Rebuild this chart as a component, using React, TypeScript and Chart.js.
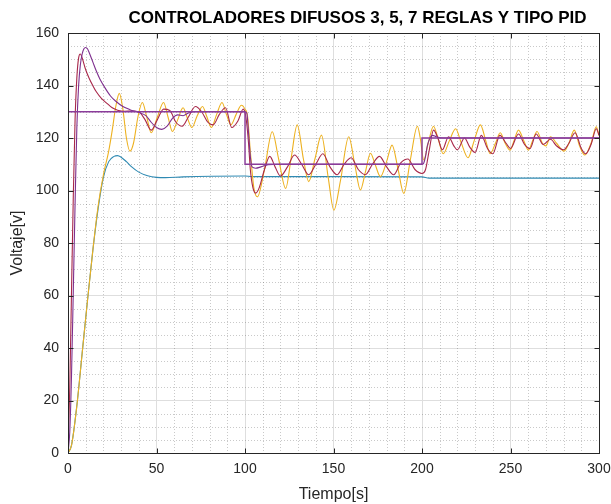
import React, { useEffect, useRef } from 'react';
import { Chart, registerables } from 'chart.js';

Chart.register(...registerables);

const TITLE = 'CONTROLADORES DIFUSOS 3, 5, 7 REGLAS Y TIPO PID';
const X_LABEL = 'Tiempo[s]';
const Y_LABEL = 'Voltaje[v]';
const X_TICKS = [0, 50, 100, 150, 200, 250, 300];
const Y_TICKS = [0, 20, 40, 60, 80, 100, 120, 140, 160];
const X_MINOR_STEP = 10;
const Y_MINOR_STEP = 5;

// Setpoint (reference)
const refT = [0, 100, 100, 200, 200, 300];
const refV = [130, 130, 110, 110, 120, 120];

// Fuzzy controller (purple)
const purT = [0, 1, 2, 3, 4, 5, 6, 7, 8, 9, 10, 11, 12, 14, 16, 18, 21, 24, 27, 31, 35, 40, 44, 47, 50, 53, 56, 59, 62, 65, 68, 72, 100, 101, 102, 103, 104, 106, 109, 113, 120, 200, 201, 202, 203, 204.5, 206, 208, 212, 300];
const purV = [0, 8, 30, 62, 95, 124, 140, 148, 152, 154, 154.5, 154, 152.5, 149, 145.5, 142.5, 139, 136, 134, 132, 130.8, 129.7, 128.5, 126, 124, 123.3, 124.5, 127.5, 128.8, 128.5, 129.5, 130, 130, 129.5, 122, 113, 109, 108.5, 109, 109.8, 110, 110, 110.5, 113, 117, 120, 121, 120.5, 120, 120];

// Fuzzy controller (red)
const redT = [0, 1, 2, 3, 4, 5, 6, 7, 8, 10, 12, 14, 16, 19, 22, 25, 28, 32, 36, 40, 43.5, 47, 50.5, 54, 57.5, 61, 64.5, 68, 72, 75.5, 79, 82, 85.5, 89, 92.5, 96, 99, 100.5, 102, 103, 104.5, 106, 108, 111, 114, 117, 120, 124, 128, 132, 136, 140, 144, 148, 152, 156, 160, 164, 168, 172, 176, 180, 184, 188, 192, 196, 200, 202, 204, 206.5, 209, 211.5, 215, 218, 220, 224, 227, 230, 233.5, 237, 240, 244, 247.5, 250, 254.5, 258, 261, 264.5, 268.5, 272.6, 276, 280, 283, 286.5, 290, 292.5, 295.5, 298.5, 300];
const redV = [0, 25, 62, 98, 127, 143, 150.5, 152, 150.5, 146, 142.7, 140, 137.6, 135, 133.2, 131.5, 130.6, 130.2, 130.3, 130, 127, 123, 127, 131, 130.5, 126, 124.5, 128, 132, 130, 126, 125, 129, 131.5, 124, 126.5, 131, 128, 118, 108, 101, 99, 101, 108, 113, 109, 105.5, 109, 113.5, 110, 106, 110, 114, 109, 106, 110, 112.5, 108, 106, 110, 113, 109, 106, 110.5, 112, 108, 106.5, 108, 115, 123, 120, 115.5, 120.5, 117, 115.5, 120, 116.5, 114.5, 121, 116, 114, 121, 118, 116, 121.5, 117.5, 116, 121.5, 117.5, 119.5, 117, 115.5, 118, 122, 116, 114, 117.5, 123.5, 121];

// Fuzzy controller (yellow)
const yelT = [0, 2, 5, 8, 11, 14, 17, 20, 23, 25, 27, 29, 31, 33, 35, 37, 39.5, 42, 44.5, 47, 50.5, 54, 56.5, 59, 62, 65, 67.5, 70, 73, 76, 78.5, 81, 84, 87, 89.5, 92, 95, 98, 100, 101.5, 103, 105, 107, 111, 115.4, 119, 123, 126, 129.5, 133, 136, 139.5, 143.2, 147, 150.2, 154, 158.6, 162, 165.2, 168, 170.9, 173.5, 176.5, 180, 183.1, 186.5, 189.7, 193.5, 197.4, 199, 201, 203.5, 206.5, 209, 212, 215.5, 219, 222, 226, 229.5, 233, 236, 238.5, 241.5, 244.2, 247, 249.8, 252, 254.5, 257.5, 260.1, 262.5, 265, 268, 270, 272.6, 276, 280.3, 283, 286, 289, 292, 295.5, 298.5, 300];
const yelV = [0, 3, 18, 38, 58, 77, 94, 106, 115, 123, 132, 137, 131, 120, 115, 118, 128, 133.5, 128, 122, 128, 133.5, 128, 122.5, 127, 131.5, 127.5, 124, 128.5, 132, 128, 124, 129, 133.5, 129, 125, 129, 132.5, 131, 128, 115, 101, 97.6, 108, 122.4, 112, 100.8, 112, 125, 112, 103.4, 112, 121.1, 105, 92.5, 104, 120.5, 110, 100.2, 107, 114.2, 110, 105.3, 111, 117.3, 108, 98.9, 112, 124.5, 120, 111.6, 118, 124.5, 120, 114, 119, 123.5, 118.5, 112.5, 119, 125, 119, 114, 118, 122, 118, 115.4, 119, 123, 119, 115.4, 119, 122.5, 118, 117, 120.5, 118, 115, 118, 123, 117, 113.5, 118, 124.3, 121];

// PID controller (blue)
const pidT = [0, 2, 5, 8, 11, 14, 17, 20, 23, 26, 28, 30, 33, 36, 40, 45, 50, 55, 65, 100, 104, 150, 200, 204, 300];
const pidV = [0, 3, 18, 38, 58, 77, 93, 105, 111, 113, 113.3, 112.7, 111, 109, 107, 105.6, 105, 104.9, 105.2, 105.5, 105.3, 105.3, 105.2, 104.7, 104.7];

const FONT = '"Liberation Sans", Arial, Helvetica, sans-serif';

const toXY = (t: number[], v: number[]) => t.map((x, i) => ({ x, y: v[i] }));

const matlabAxes = {
  id: 'matlabAxes',
  beforeDatasetsDraw(chart: any) {
    const { ctx, chartArea: a, scales } = chart;
    const x = scales.x;
    const y = scales.y;
    ctx.save();
    ctx.strokeStyle = 'rgba(60,60,60,0.28)';
    ctx.lineWidth = 1;
    ctx.setLineDash([1, 2]);
    ctx.beginPath();
    for (let v = x.min; v <= x.max; v += X_MINOR_STEP) {
      if (X_TICKS.includes(v)) continue;
      const px = Math.round(x.getPixelForValue(v)) + 0.5;
      ctx.moveTo(px, a.top);
      ctx.lineTo(px, a.bottom);
    }
    for (let v = y.min; v <= y.max; v += Y_MINOR_STEP) {
      if (Y_TICKS.includes(v)) continue;
      const py = Math.round(y.getPixelForValue(v)) + 0.5;
      ctx.moveTo(a.left, py);
      ctx.lineTo(a.right, py);
    }
    ctx.stroke();
    ctx.restore();
  },
  afterDatasetsDraw(chart: any) {
    const { ctx, chartArea: a, scales } = chart;
    const x = scales.x;
    const y = scales.y;
    ctx.save();
    ctx.strokeStyle = '#262626';
    ctx.lineWidth = 1;
    const L = Math.round(a.left) + 0.5;
    const R = Math.round(a.right) + 0.5;
    const T = Math.round(a.top) + 0.5;
    const B = Math.round(a.bottom) + 0.5;
    ctx.strokeRect(L, T, R - L, B - T);
    ctx.beginPath();
    const tl = 5;
    for (const v of X_TICKS) {
      const px = Math.round(x.getPixelForValue(v)) + 0.5;
      ctx.moveTo(px, B); ctx.lineTo(px, B - tl);
      ctx.moveTo(px, T); ctx.lineTo(px, T + tl);
    }
    for (const v of Y_TICKS) {
      const py = Math.round(y.getPixelForValue(v)) + 0.5;
      ctx.moveTo(L, py); ctx.lineTo(L + tl, py);
      ctx.moveTo(R, py); ctx.lineTo(R - tl, py);
    }
    ctx.stroke();
    // Title (centred as in the reference, slightly right of the axes centre)
    ctx.fillStyle = '#000000';
    ctx.font = `bold 17px ${FONT}`;
    ctx.textAlign = 'center';
    ctx.textBaseline = 'middle';
    ctx.fillText(TITLE, (a.left + a.right) / 2 + 24, a.top - 15);
    ctx.restore();
  },
};

export default function App() {
  const ref = useRef<HTMLCanvasElement | null>(null);

  useEffect(() => {
    document.body.style.margin = '0';
    const canvas = ref.current;
    if (!canvas) return;
    const lineBase = { pointRadius: 0, fill: false, borderWidth: 1.1, cubicInterpolationMode: 'monotone' as const };
    const chart = new Chart(canvas, {
      type: 'line',
      data: {
        datasets: [
          { label: 'Referencia', data: toXY(refT, refV), borderColor: '#8A3C9A', borderWidth: 1.4, pointRadius: 0, tension: 0, order: 0 },
          { label: 'Difuso (morado)', data: toXY(purT, purV), borderColor: '#7E2F8E', ...lineBase, order: 1 },
          { label: 'Difuso (rojo)', data: toXY(redT, redV), borderColor: '#A8284A', ...lineBase, order: 2 },
          { label: 'Difuso (amarillo)', data: toXY(yelT, yelV), borderColor: '#EDB120', ...lineBase, order: 3 },
          { label: 'PID', data: toXY(pidT, pidV), borderColor: '#2F8AB3', ...lineBase, order: 4 },
        ],
      },
      options: {
        responsive: false,
        animation: false,
        events: [],
        layout: { padding: { left: 0, right: 12, top: 33, bottom: 0 } },
        plugins: {
          legend: { display: false },
          tooltip: { enabled: false },
          title: { display: false },
        },
        scales: {
          x: {
            type: 'linear',
            min: 0,
            max: 300,
            afterBuildTicks: (s: any) => { s.ticks = X_TICKS.map((v) => ({ value: v })); },
            ticks: { color: '#262626', font: { family: FONT, size: 14 }, padding: 8, maxRotation: 0, autoSkip: false },
            grid: { color: '#dedede', lineWidth: 1, drawTicks: false },
            border: { display: false },
            title: { display: true, text: X_LABEL, color: '#262626', font: { family: FONT, size: 16 }, padding: { top: 0, bottom: 0 } },
            afterFit: (s: any) => { s.height = 51; s.paddingLeft = 0; s.paddingRight = 0; },
          },
          y: {
            type: 'linear',
            min: 0,
            max: 160,
            afterBuildTicks: (s: any) => { s.ticks = Y_TICKS.map((v) => ({ value: v })); },
            ticks: { color: '#262626', font: { family: FONT, size: 14 }, padding: 9, autoSkip: false },
            grid: { color: '#dedede', lineWidth: 1, drawTicks: false },
            border: { display: false },
            title: { display: true, text: Y_LABEL, color: '#262626', font: { family: FONT, size: 16 }, padding: { top: 8, bottom: 0 } },
            afterFit: (s: any) => { s.width = 68; s.paddingTop = 0; s.paddingBottom = 0; },
          },
        },
      },
      plugins: [matlabAxes],
    } as any);
    return () => chart.destroy();
  }, []);

  return (
    <div style={{ width: 611, height: 504, background: '#fff' }}>
      <canvas ref={ref} width={611} height={504} style={{ display: 'block' }} />
    </div>
  );
}
